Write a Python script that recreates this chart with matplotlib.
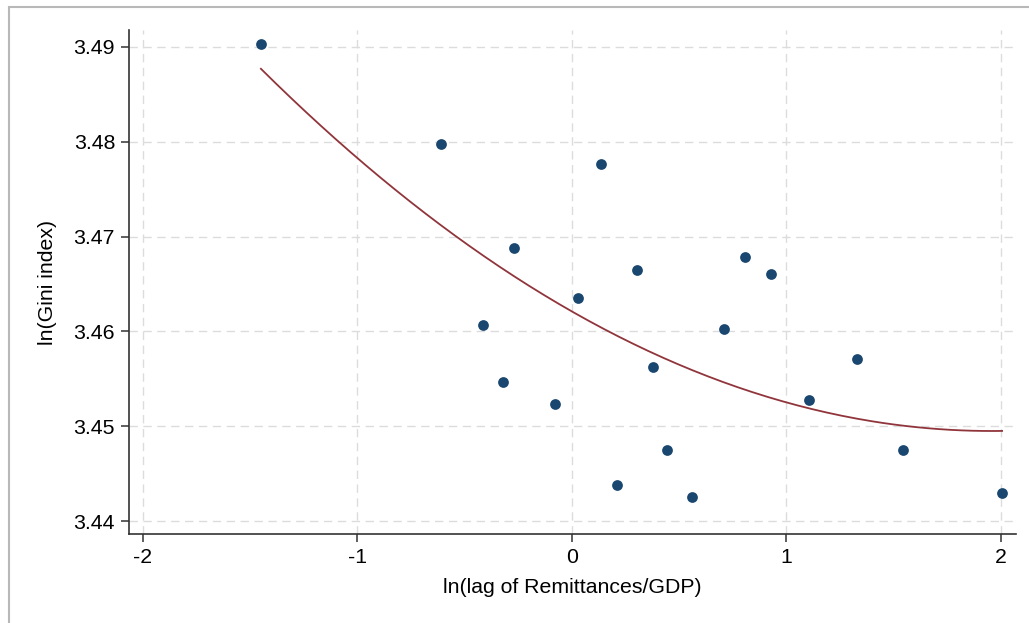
#!/usr/bin/env python3
"""Scatter of ln(Gini) vs ln(lagged remittances/GDP) with a quadratic fit."""

import matplotlib

matplotlib.use("Agg")
import matplotlib.pyplot as plt
import numpy as np
from matplotlib.patches import Rectangle

# values
ln_remit = [-1.45, -0.61, 0.135, -0.27, -0.415, 0.028, 0.303, 0.807, 0.928, 0.709,
            0.378, 1.329, -0.322, -0.079, 1.105, 0.443, 1.543, 0.21, 0.559, 2.005]
ln_gini = [3.4903, 3.4798, 3.4777, 3.4688, 3.4607, 3.4635, 3.4665, 3.4678, 3.4661, 3.4603,
           3.4562, 3.4571, 3.4547, 3.4523, 3.4528, 3.4475, 3.4475, 3.4438, 3.4425, 3.4430]
# quadratic fit shown in the reference (c, b, a)
fit_coef = [0.003291, -0.012882, 3.4621]
x_ticks = [-2, -1, 0, 1, 2]
y_ticks = [3.44, 3.45, 3.46, 3.47, 3.48, 3.49]

NAVY = "#1a476f"
MAROON = "#90353b"
GRID = "#dcdcdc"
FONT = "Liberation Sans"
FS = 15.3

W, H = 1029, 623
fig = plt.figure(figsize=(W / 100, H / 100), dpi=100)
fig.patch.set_facecolor("white")

# outer frame of the screenshot
fig.patches.append(
    Rectangle((9 / W, -0.05), 1.2, 1 - 7 / H + 0.05, transform=fig.transFigure,
              fill=False, edgecolor="#b8b8b8", linewidth=1.5, clip_on=False)
)

left, right, top, bottom = 129, 1016, 30, 534
ax = fig.add_axes([left / W, 1 - bottom / H, (right - left) / W, (bottom - top) / H])

xs = np.linspace(min(ln_remit), max(ln_remit), 200)

ax.grid(True, color=GRID, linestyle=(0, (6, 4)), linewidth=1.0)
ax.set_axisbelow(True)
ax.scatter(ln_remit, ln_gini, s=60, color=NAVY, zorder=3, linewidths=0)
ax.plot(xs, np.polyval(fit_coef, xs), color=MAROON, linewidth=1.3, zorder=2)

ax.set_xlim(-2.065, 2.07)
ax.set_ylim(3.43863, 3.49179)
ax.set_xticks(x_ticks)
ax.set_xticklabels([str(t) for t in x_ticks])
ax.set_yticks(y_ticks)
ax.set_yticklabels([f"{t:.2f}" for t in y_ticks])

for side in ("top", "right"):
    ax.spines[side].set_visible(False)
for side in ("left", "bottom"):
    ax.spines[side].set_linewidth(1.2)
    ax.spines[side].set_color("#333333")
ax.tick_params(direction="out", length=6, width=1.1, color="#333333",
               labelsize=FS, pad=4)
for lab in ax.get_xticklabels() + ax.get_yticklabels():
    lab.set_fontfamily(FONT)

ax.set_xlabel("ln(lag of Remittances/GDP)", fontsize=FS, fontfamily=FONT, labelpad=8)
ax.set_ylabel("ln(Gini index)", fontsize=FS, fontfamily=FONT, labelpad=12)

fig.savefig("out.png", dpi=100)
